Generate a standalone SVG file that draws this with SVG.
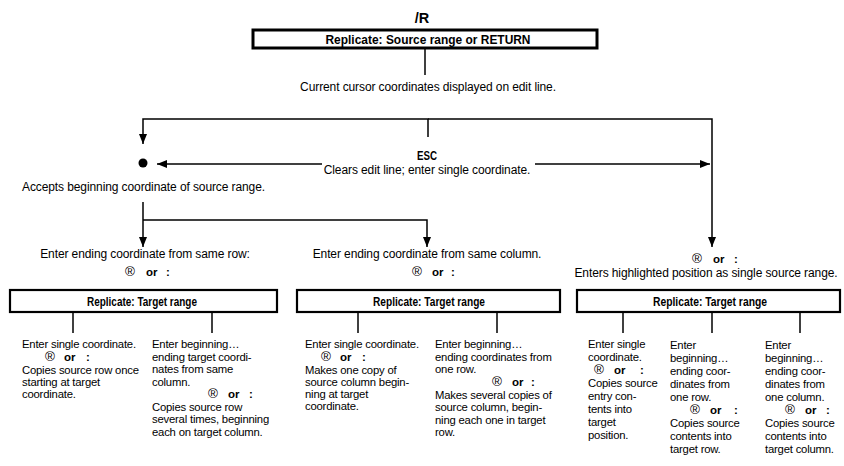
<svg xmlns="http://www.w3.org/2000/svg" width="844" height="466" viewBox="0 0 844 466">
<defs>
<marker id="ah" viewBox="0 0 10 8" refX="10" refY="4" markerWidth="10" markerHeight="8" markerUnits="userSpaceOnUse" orient="auto">
<path d="M0,0 L10,4 L0,8 Z" fill="#000"/>
</marker>
</defs>
<style>
text{font-family:"Liberation Sans",Arial,sans-serif;fill:#000}
.t{font-size:11.3px;letter-spacing:-0.2px}
.m{font-size:12px;letter-spacing:-0.1px}
.b{font-weight:bold}
.bl{font-size:12.5px;font-weight:bold}
.reg{font-size:13.5px}
.or{font-size:11.5px;font-weight:bold}
.box{fill:#fff;stroke:#000;stroke-width:2.2}
.ln{fill:none;stroke:#000;stroke-width:1.5}
</style>
<rect width="844" height="466" fill="#fff"/>

<g id="connectors">
<line class="ln" x1="425" y1="49" x2="425" y2="75"/>
<polyline class="ln" points="428,137 428,119 143,119 143,144" marker-end="url(#ah)"/>
<polyline class="ln" points="428,119 712,119 712,247" marker-end="url(#ah)"/>
<line class="ln" x1="322" y1="164" x2="157" y2="164" marker-end="url(#ah)"/>
<line class="ln" x1="535" y1="164" x2="710" y2="164" marker-end="url(#ah)"/>
<line class="ln" x1="143" y1="202" x2="143" y2="247" marker-end="url(#ah)"/>
<polyline class="ln" points="143,220 427,220 427,247" marker-end="url(#ah)"/>
<line class="ln" x1="73" y1="312" x2="73" y2="333"/>
<line class="ln" x1="212" y1="312" x2="212" y2="333"/>
<line class="ln" x1="358" y1="312" x2="358" y2="333"/>
<line class="ln" x1="497" y1="312" x2="497" y2="333"/>
<line class="ln" x1="623" y1="312" x2="623" y2="333"/>
<line class="ln" x1="712" y1="312" x2="712" y2="333"/>
<line class="ln" x1="800" y1="312" x2="800" y2="333"/>
</g>

<g id="start">
<text x="422" y="23" text-anchor="middle" font-size="14.5" font-weight="bold">/R</text>
<rect x="253" y="30" width="344" height="18" fill="#fff" stroke="#000" stroke-width="3"/>
<text x="428" y="43.5" text-anchor="middle" class="b" font-size="13" textLength="205" lengthAdjust="spacingAndGlyphs">Replicate: Source range or RETURN</text>
</g>

<g id="cursor">
<text class="m" x="428" y="91" text-anchor="middle">Current cursor coordinates displayed on edit line.</text>
</g>

<g id="esc">
<text x="427" y="160" text-anchor="middle" class="b" font-size="13" textLength="20" lengthAdjust="spacingAndGlyphs">ESC</text>
<text class="m" x="427" y="174" text-anchor="middle">Clears edit line; enter single coordinate.</text>
</g>

<g id="accept">
<circle cx="143" cy="163" r="4.5" fill="#000"/>
<text class="m" x="22" y="191">Accepts beginning coordinate of source range.</text>
</g>

<g id="row-end">
<text class="m" x="145" y="258" text-anchor="middle">Enter ending coordinate from same row:</text>
<text y="276"><tspan class="reg" x="125">®</tspan><tspan class="or" x="146">or</tspan><tspan class="or" x="166">:</tspan></text>
</g>

<g id="col-end">
<text class="m" x="427" y="258" text-anchor="middle">Enter ending coordinate from same column.</text>
<text y="276"><tspan class="reg" x="412">®</tspan><tspan class="or" x="432">or</tspan><tspan class="or" x="451">:</tspan></text>
</g>

<g id="single-src">
<text y="263"><tspan class="reg" x="692">®</tspan><tspan class="or" x="713">or</tspan><tspan class="or" x="734">:</tspan></text>
<text class="m" x="706" y="277" text-anchor="middle">Enters highlighted position as single source range.</text>
</g>

<g id="target1">
<rect class="box" x="10" y="290" width="267" height="22"/>
<text class="bl" x="142" y="305.5" text-anchor="middle" textLength="110" lengthAdjust="spacingAndGlyphs">Replicate: Target range</text>
</g>
<g id="target2">
<rect class="box" x="297" y="290" width="263" height="22"/>
<text class="bl" x="429" y="305.5" text-anchor="middle" textLength="112" lengthAdjust="spacingAndGlyphs">Replicate: Target range</text>
</g>
<g id="target3">
<rect class="box" x="577" y="290" width="263" height="22"/>
<text class="bl" x="710" y="305.5" text-anchor="middle" textLength="114" lengthAdjust="spacingAndGlyphs">Replicate: Target range</text>
</g>

<g id="c1">
<text class="t" x="22" y="348">Enter single coordinate.</text>
<text y="361"><tspan class="reg" x="45">®</tspan><tspan class="or" x="64">or</tspan><tspan class="or" x="86">:</tspan></text>
<text class="t" x="22" y="374">Copies source row once</text>
<text class="t" x="22" y="386">starting at target</text>
<text class="t" x="22" y="398">coordinate.</text>
</g>

<g id="c2">
<text class="t" x="152" y="348">Enter beginning…</text>
<text class="t" x="152" y="360.5">ending target coordi-</text>
<text class="t" x="152" y="373">nates from same</text>
<text class="t" x="152" y="385.5">column.</text>
<text y="398"><tspan class="reg" x="208">®</tspan><tspan class="or" x="228">or</tspan><tspan class="or" x="249">:</tspan></text>
<text class="t" x="152" y="410.5">Copies source row</text>
<text class="t" x="152" y="423">several times, beginning</text>
<text class="t" x="152" y="435.5">each on target column.</text>
</g>

<g id="c3">
<text class="t" x="305" y="348">Enter single coordinate.</text>
<text y="361"><tspan class="reg" x="321">®</tspan><tspan class="or" x="340">or</tspan><tspan class="or" x="362">:</tspan></text>
<text class="t" x="305" y="374">Makes one copy of</text>
<text class="t" x="305" y="386">source column begin-</text>
<text class="t" x="305" y="398">ning at target</text>
<text class="t" x="305" y="410">coordinate.</text>
</g>

<g id="c4">
<text class="t" x="435" y="348">Enter beginning…</text>
<text class="t" x="435" y="360.5">ending coordinates from</text>
<text class="t" x="435" y="373">one row.</text>
<text y="386"><tspan class="reg" x="492">®</tspan><tspan class="or" x="512">or</tspan><tspan class="or" x="531">:</tspan></text>
<text class="t" x="435" y="398.5">Makes several copies of</text>
<text class="t" x="435" y="411">source column, begin-</text>
<text class="t" x="435" y="423.5">ning each one in target</text>
<text class="t" x="435" y="436">row.</text>
</g>

<g id="c5">
<text class="t" x="588" y="348">Enter single</text>
<text class="t" x="588" y="361">coordinate.</text>
<text y="374"><tspan class="reg" x="594">®</tspan><tspan class="or" x="614">or</tspan><tspan class="or" x="640">:</tspan></text>
<text class="t" x="588" y="387">Copies source</text>
<text class="t" x="588" y="400">entry con-</text>
<text class="t" x="588" y="413">tents into</text>
<text class="t" x="588" y="426">target</text>
<text class="t" x="588" y="439">position.</text>
</g>

<g id="c6">
<text class="t" x="670" y="349">Enter</text>
<text class="t" x="670" y="362">beginning…</text>
<text class="t" x="670" y="375">ending coor-</text>
<text class="t" x="670" y="388">dinates from</text>
<text class="t" x="670" y="401">one row.</text>
<text y="414"><tspan class="reg" x="690">®</tspan><tspan class="or" x="710">or</tspan><tspan class="or" x="734">:</tspan></text>
<text class="t" x="670" y="427">Copies source</text>
<text class="t" x="670" y="440">contents into</text>
<text class="t" x="670" y="453">target row.</text>
</g>

<g id="c7">
<text class="t" x="765" y="349">Enter</text>
<text class="t" x="765" y="362">beginning…</text>
<text class="t" x="765" y="375">ending coor-</text>
<text class="t" x="765" y="388">dinates from</text>
<text class="t" x="765" y="401">one column.</text>
<text y="414"><tspan class="reg" x="785">®</tspan><tspan class="or" x="805">or</tspan><tspan class="or" x="826">:</tspan></text>
<text class="t" x="765" y="427">Copies source</text>
<text class="t" x="765" y="440">contents into</text>
<text class="t" x="765" y="453">target column.</text>
</g>
</svg>
